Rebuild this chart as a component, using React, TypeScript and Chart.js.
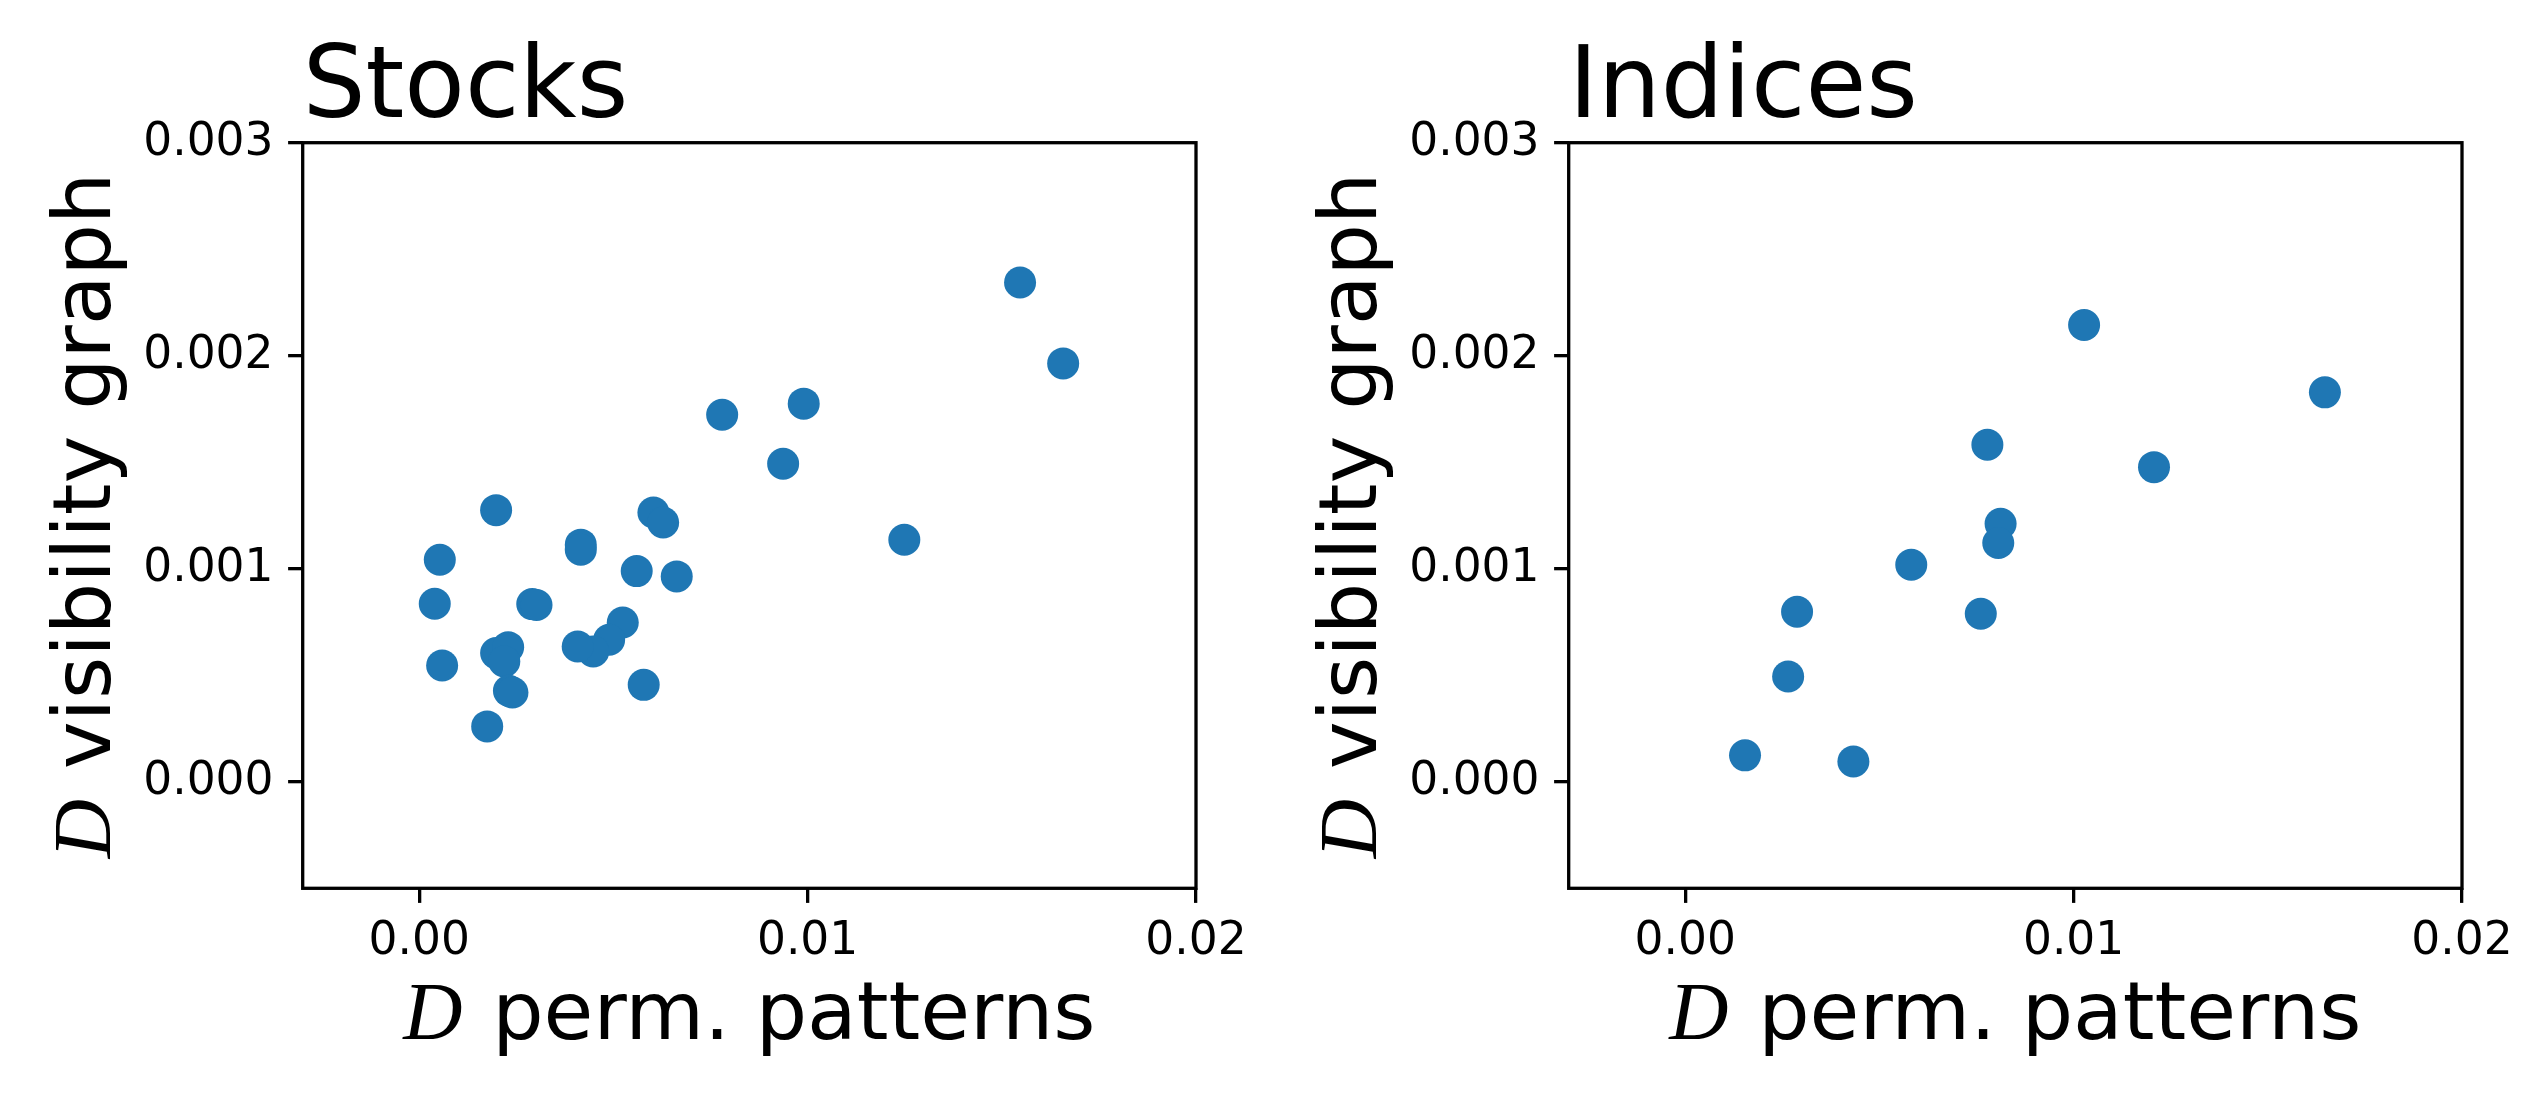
import { useEffect, useRef } from 'react';
import { Chart, registerables } from 'chart.js';

Chart.register(...registerables);

// Stocks panel: D of permutation patterns (x) vs D of visibility graph (y)
const stocksPerm = [
  0.01547, 0.01658, 0.0078, 0.0099, 0.00937, 0.01249,
  0.00198, 0.00603, 0.00628, 0.00053, 0.00416, 0.00416,
  0.0056, 0.00663, 0.0004, 0.00291, 0.00302, 0.00524,
  0.00489, 0.00448, 0.00408, 0.00059, 0.00198, 0.00229,
  0.00219, 0.00231, 0.0024, 0.00175, 0.00578,
];
const stocksVis = [
  0.002344, 0.001964, 0.001723, 0.001775, 0.001493, 0.001136,
  0.001275, 0.001264, 0.001217, 0.001042, 0.001113, 0.001089,
  0.000989, 0.000964, 0.000836, 0.000834, 0.00083, 0.000748,
  0.000667, 0.000612, 0.000635, 0.000546, 0.000604, 0.000632,
  0.000565, 0.000427, 0.000419, 0.00026, 0.000455,
];

// Indices panel
const indicesPerm = [
  0.01027, 0.00778, 0.00812, 0.00806, 0.00582, 0.00288,
  0.00761, 0.00265, 0.00154, 0.00433, 0.01647, 0.01207,
];
const indicesVis = [
  0.002144, 0.001582, 0.001211, 0.001121, 0.001019, 0.000798,
  0.000789, 0.000494, 0.000124, 0.000095, 0.001828, 0.001477,
];

const xTicks = [0, 0.01, 0.02];
const xTickLabels = ['0.00', '0.01', '0.02'];
const yTicks = [0, 0.001, 0.002, 0.003];
const yTickLabels = ['0.000', '0.001', '0.002', '0.003'];
const xMin = -0.003;
const xMax = 0.02;
const yMin = -0.0005;
const yMax = 0.003;

const mathD = 'D';
const xLabel = ' perm. patterns';
const yLabel = ' visibility graph';

const SANS = '"DejaVu Sans", sans-serif';
const MATH = 'italic 82px "Liberation Serif", "DejaVu Serif", serif';
const LABEL = '81px ' + SANS;

// draws the box round the plot, the title and both axis labels
const frameAndLabels = {
  id: 'frameAndLabels',
  afterDraw(chart: any, _args: any, opts: any) {
    const { ctx, chartArea: a } = chart;
    ctx.save();
    ctx.strokeStyle = '#000';
    ctx.lineWidth = 3.3;
    ctx.strokeRect(a.left, a.top, a.right - a.left, a.bottom - a.top);

    ctx.fillStyle = '#000';
    ctx.textBaseline = 'alphabetic';
    ctx.textAlign = 'left';
    ctx.font = '99px ' + SANS;
    ctx.fillText(opts.title, a.left, a.top - 26);

    const drawLabel = (rest: string, cx: number, baseline: number) => {
      ctx.font = MATH;
      const wD = ctx.measureText(mathD).width + 4;
      ctx.font = LABEL;
      const wR = ctx.measureText(rest).width;
      const start = cx - (wD + wR) / 2;
      ctx.font = MATH;
      ctx.fillText(mathD, start, baseline);
      ctx.font = LABEL;
      ctx.fillText(rest, start + wD, baseline);
    };

    drawLabel(xLabel, (a.left + a.right) / 2, 1039);

    ctx.translate(110, (a.top + a.bottom) / 2);
    ctx.rotate(-Math.PI / 2);
    drawLabel(yLabel, 0, 0);
    ctx.restore();
  },
};

function Panel({ title, xs, ys }: { title: string; xs: number[]; ys: number[] }) {
  const canvasRef = useRef<HTMLCanvasElement>(null);

  useEffect(() => {
    if (!canvasRef.current) return;
    const chart = new Chart(canvasRef.current, {
      type: 'scatter',
      data: {
        datasets: [{
          data: xs.map((x, i) => ({ x, y: ys[i] })),
          backgroundColor: '#1f77b4',
          borderWidth: 0,
          pointRadius: 16,
          pointHoverRadius: 16,
        }],
      },
      options: {
        animation: false,
        responsive: false,
        devicePixelRatio: 1,
        layout: { padding: { left: 0, top: 142.7, right: 70, bottom: 0 } },
        plugins: {
          legend: { display: false },
          tooltip: { enabled: false },
          // @ts-ignore
          frameAndLabels: { title },
        },
        scales: {
          x: {
            type: 'linear',
            min: xMin,
            max: xMax,
            afterFit: (s: any) => { s.height = 206.7; },
            afterBuildTicks: (s: any) => { s.ticks = xTicks.map((v) => ({ value: v })); },
            ticks: {
              callback: (_v: any, i: number) => xTickLabels[i],
              font: { family: SANS, size: 45.5 },
              color: '#000',
              padding: 12,
              maxRotation: 0,
              autoSkip: false,
            },
            grid: { drawOnChartArea: false, tickLength: 14.6, lineWidth: 3.3, tickWidth: 3.3, tickColor: '#000' },
            border: { display: false },
          },
          y: {
            type: 'linear',
            min: yMin,
            max: yMax,
            afterFit: (s: any) => { s.width = 302.7; },
            afterBuildTicks: (s: any) => { s.ticks = yTicks.map((v) => ({ value: v })); },
            ticks: {
              callback: (_v: any, i: number) => yTickLabels[i],
              font: { family: SANS, size: 45.5 },
              color: '#000',
              padding: 14.6,
              autoSkip: false,
            },
            grid: { drawOnChartArea: false, tickLength: 14.6, lineWidth: 3.3, tickWidth: 3.3, tickColor: '#000' },
            border: { display: false },
          },
        },
      },
      plugins: [frameAndLabels],
    });
    return () => chart.destroy();
  }, [title, xs, ys]);

  return <canvas ref={canvasRef} width={1266} height={1095} style={{ display: 'block' }} />;
}

export default function App() {
  return (
    <div style={{ position: 'fixed', left: 0, top: 0, width: 2532, height: 1095, display: 'flex', background: '#fff' }}>
      <Panel title="Stocks" xs={stocksPerm} ys={stocksVis} />
      <Panel title="Indices" xs={indicesPerm} ys={indicesVis} />
    </div>
  );
}
